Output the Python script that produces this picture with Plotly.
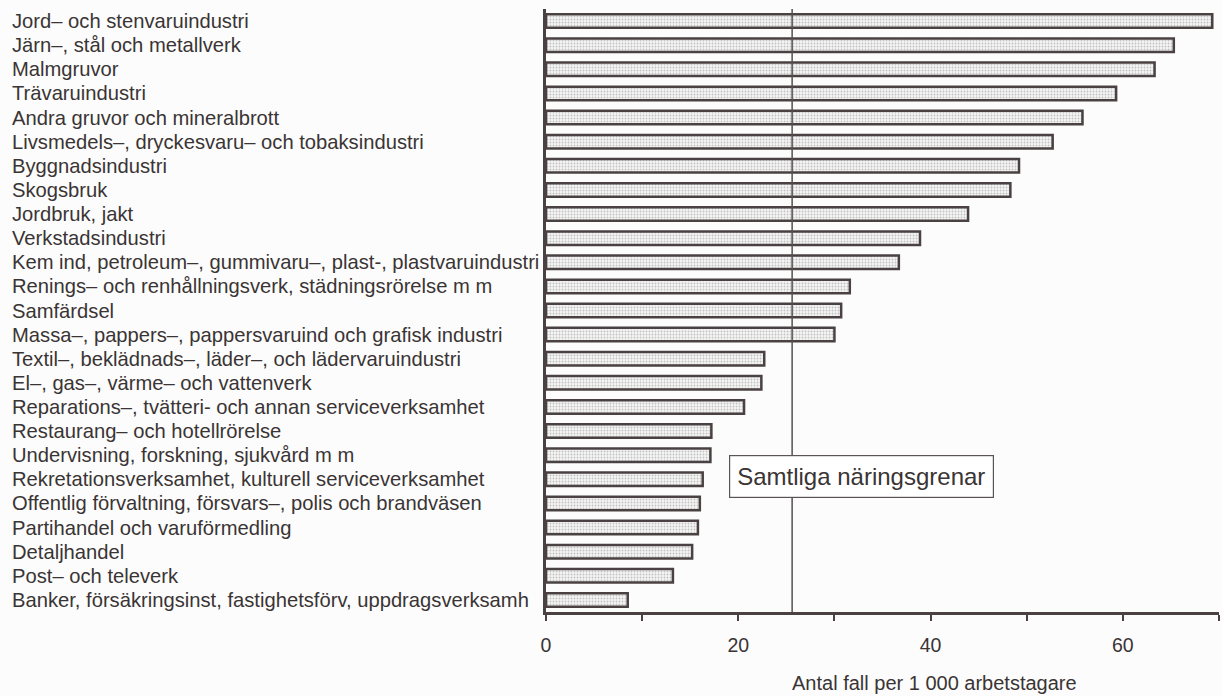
import plotly.graph_objects as go

categories = [
    "Jord– och stenvaruindustri",
    "Järn–, stål och metallverk",
    "Malmgruvor",
    "Trävaruindustri",
    "Andra gruvor och mineralbrott",
    "Livsmedels–, dryckesvaru– och tobaksindustri",
    "Byggnadsindustri",
    "Skogsbruk",
    "Jordbruk, jakt",
    "Verkstadsindustri",
    "Kem ind, petroleum–, gummivaru–, plast-, plastvaruindustri",
    "Renings– och renhållningsverk, städningsrörelse m m",
    "Samfärdsel",
    "Massa–, pappers–, pappersvaruind och grafisk industri",
    "Textil–, beklädnads–, läder–, och lädervaruindustri",
    "El–, gas–, värme– och vattenverk",
    "Reparations–, tvätteri- och annan serviceverksamhet",
    "Restaurang– och hotellrörelse",
    "Undervisning, forskning, sjukvård m m",
    "Rekretationsverksamhet, kulturell serviceverksamhet",
    "Offentlig förvaltning, försvars–, polis och brandväsen",
    "Partihandel och varuförmedling",
    "Detaljhandel",
    "Post– och televerk",
    "Banker, försäkringsinst, fastighetsförv, uppdragsverksamh",
]
values = [69.3, 65.3, 63.3, 59.3, 55.8, 52.7, 49.2, 48.3, 43.9, 38.9, 36.7, 31.6,
          30.7, 30.0, 22.7, 22.4, 20.6, 17.2, 17.1, 16.3, 16.0, 15.8, 15.2, 13.2, 8.5]
average_value = 25.6
average_label = "Samtliga näringsgrenar"
tick_values = [0, 10, 20, 30, 40, 50, 60, 70]
tick_labels = ["0", "", "20", "", "40", "", "60", ""]
x_title = "Antal fall per 1 000 arbetstagare"

FONT = "Liberation Sans, Arial, Helvetica, sans-serif"
INK = "#3a3434"
BAR_LINE = "#4a4242"

fig = go.Figure()
fig.add_trace(go.Bar(
    x=values,
    y=categories,
    orientation="h",
    width=0.56,
    marker=dict(
        color="#f3f3f3",
        line=dict(color=BAR_LINE, width=2.5),
        pattern=dict(shape=".", fgcolor="#c2c2c2", bgcolor="#f5f5f5",
                     size=3, solidity=0.3, fillmode="replace"),
    ),
    hoverinfo="x+y",
))

# average vertical line
fig.add_shape(type="line", xref="x", yref="paper",
              x0=average_value, x1=average_value, y0=0, y1=1,
              line=dict(color="#555050", width=1.5), layer="above")

# category labels, left aligned
for c in categories:
    fig.add_annotation(text=c, xref="paper", yref="y", x=-0.7964, y=c,
                       xanchor="left", yanchor="middle", showarrow=False,
                       font=dict(family=FONT, size=20.2, color=INK))

fig.add_annotation(text=average_label, xref="paper", yref="paper",
                   x=0.4695, y=0.2247, xanchor="center", yanchor="middle",
                   showarrow=False, bgcolor="white", bordercolor="#5a5454",
                   borderwidth=1.2, borderpad=7,
                   font=dict(family=FONT, size=24, color=INK))

fig.add_annotation(text=x_title, xref="paper", yref="paper",
                   x=0.578, y=-0.118, xanchor="center", yanchor="middle",
                   showarrow=False, font=dict(family=FONT, size=20, color=INK))

fig.update_layout(
    width=1222, height=696,
    margin=dict(l=546, r=3, t=9, b=84),
    paper_bgcolor="#fcfcfc",
    plot_bgcolor="rgba(0,0,0,0)",
    showlegend=False,
    bargap=0.4,
)
fig.update_xaxes(
    range=[0, 70], tickvals=tick_values, ticktext=tick_labels,
    ticks="outside", ticklen=6, tickwidth=2, tickcolor=BAR_LINE,
    showline=True, linecolor=BAR_LINE, linewidth=2.5,
    showgrid=False, zeroline=False, ticklabelstandoff=8,
    tickfont=dict(family=FONT, size=19.5, color=INK),
)
fig.update_yaxes(
    categoryorder="array", categoryarray=categories,
    range=[24.5, -0.5], showticklabels=False, ticks="",
    showline=True, linecolor=BAR_LINE, linewidth=2.5,
    showgrid=False, zeroline=False,
)

fig.write_html("out.html", config={"displayModeBar": False},
               post_script="document.body.style.margin='0';document.body.style.overflow='hidden';")
